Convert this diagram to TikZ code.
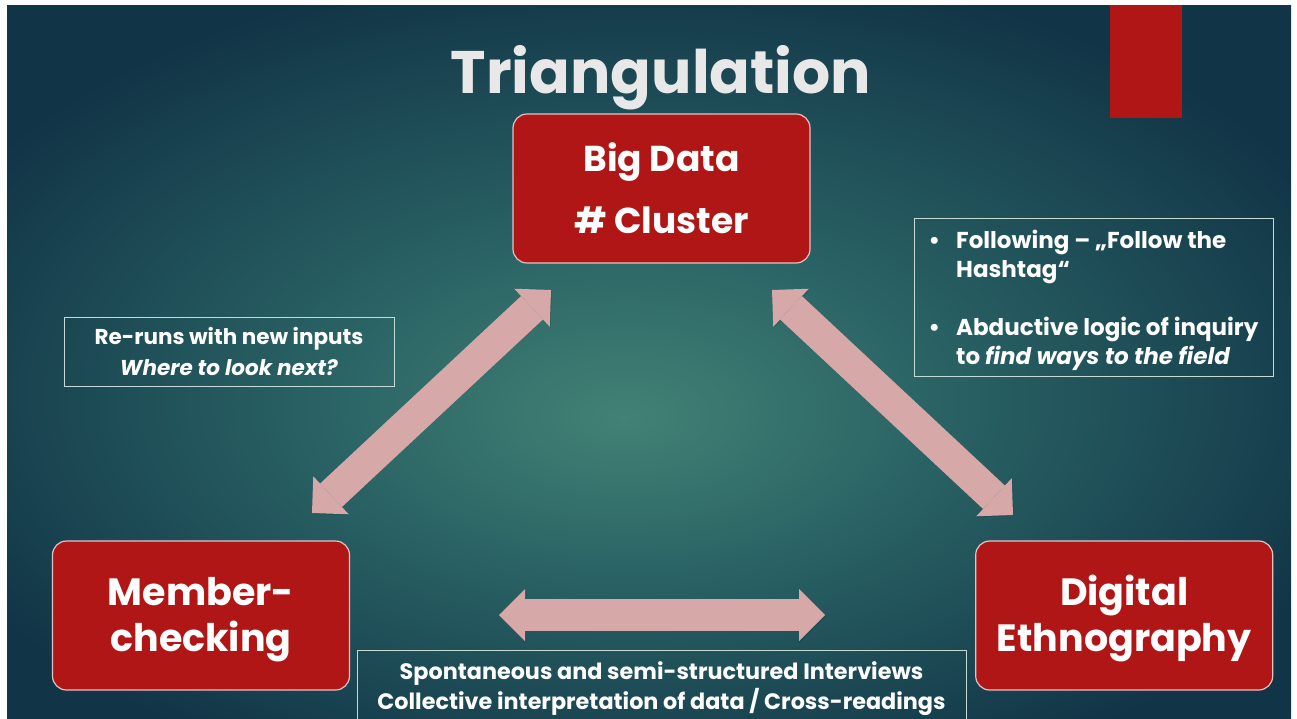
\documentclass[tikz,border=0pt]{standalone}
\usepackage{fontspec}
\setmainfont{Poppins}
\usetikzlibrary{positioning, arrows.meta}
\definecolor{slideRed}{RGB}{176,22,22}
\definecolor{boxEdge}{RGB}{222,196,196}
\definecolor{noteEdge}{RGB}{196,218,212}
\definecolor{arrowPink}{RGB}{214,168,168}
\definecolor{titleGray}{RGB}{232,232,232}
\definecolor{glowIn}{RGB}{66,130,117}
\definecolor{glowMid}{RGB}{40,96,99}
\definecolor{glowOut}{RGB}{17,52,70}
\pgfdeclareradialshading{slideglow}{\pgfpoint{-1bp}{-4bp}}{%
  color(0bp)=(glowIn); color(13bp)=(glowMid); color(30bp)=(glowOut); color(50bp)=(glowOut)}
% push a block of lines down without changing its reported size
\newcommand{\lowered}[1]{\raisebox{-4pt}[\height][\depth]{#1}}

\begin{document}
\begin{tikzpicture}[x=1pt, y=-1pt,
    box/.style={draw=boxEdge, line width=1.2pt, rounded corners=14pt, fill=slideRed, text=white,
                align=center, minimum width=297pt, minimum height=149pt, inner sep=0pt},
    note/.style={draw=noteEdge, line width=0.8pt, text=white, align=center, inner sep=0pt},
    dbl/.style={arrowPink, line width=32pt,
                {Triangle[length=26pt, width=52pt, line width=0pt]}-{Triangle[length=26pt, width=52pt, line width=0pt]},
                preaction={draw=black, opacity=.1, transform canvas={shift={(1pt,-1pt)}}}},
  ]
    % slide background
    \useasboundingbox (0,0) rectangle (1297,718);
    \fill[white] (0,0) rectangle (1297,718);
    \fill[shading=slideglow] (7,5) rectangle (1291,718);
    \fill[slideRed] (1110,5) rectangle (1182,118);

    \node[anchor=base, text=titleGray, font=\fontsize{60}{60}\selectfont\bfseries] (title) at (661,93) {Triangulation};

    % the three corners
    \node[box, font=\fontsize{36}{62}\selectfont\bfseries] (bigdata) at (661.5,188.5) {Big Data\\\# Cluster};
    \node[box, font=\fontsize{38}{46}\selectfont\bfseries] (member) at (201,615.5)
      {\lowered{\begin{tabular}{@{}c@{}}Member-\\checking\end{tabular}}};
    \node[box, font=\fontsize{38}{46}\selectfont\bfseries, right=625pt of member] (digital)
      {\lowered{\begin{tabular}{@{}c@{}}Digital\\Ethnography\end{tabular}}};

    % notes along the sides
    \node[note, minimum width=330pt, minimum height=69pt, font=\fontsize{21.5}{31}\selectfont\bfseries] (rerun) at (229,351.5)
      {Re-runs with new inputs\\\textit{Where to look next?}};
    \node[note, minimum width=359pt, minimum height=158pt, font=\fontsize{23}{29}\selectfont\bfseries] (follow) at (1093.5,297)
      {\lowered{\begin{tabular}{@{}l@{\hspace{16pt}}l@{}}
        •&Following – „Follow the\\
         &Hashtag“\\[29pt]
        •&Abductive logic of inquiry\\
         &to \textit{find ways to the field}
       \end{tabular}}};
    \node[note, minimum width=609pt, minimum height=78pt, font=\fontsize{22.3}{30}\selectfont\bfseries] (interviews) at (661.5,689)
      {Spontaneous and semi-structured Interviews\\Collective interpretation of data / Cross-readings};

    % double arrows between the corners
    \coordinate (bd-sw) at (551,290);
    \coordinate (mc-ne) at (312,513);
    \coordinate (bd-se) at (772,290);
    \coordinate (de-nw) at (1013,515);
    \coordinate (mc-e) at (499,615);
    \coordinate (de-w) at (825,615);
    \draw[dbl] (mc-ne) -- (bd-sw);
    \draw[dbl] (bd-se) -- (de-nw);
    \draw[dbl] (mc-e) -- (de-w);
\end{tikzpicture}
\end{document}
